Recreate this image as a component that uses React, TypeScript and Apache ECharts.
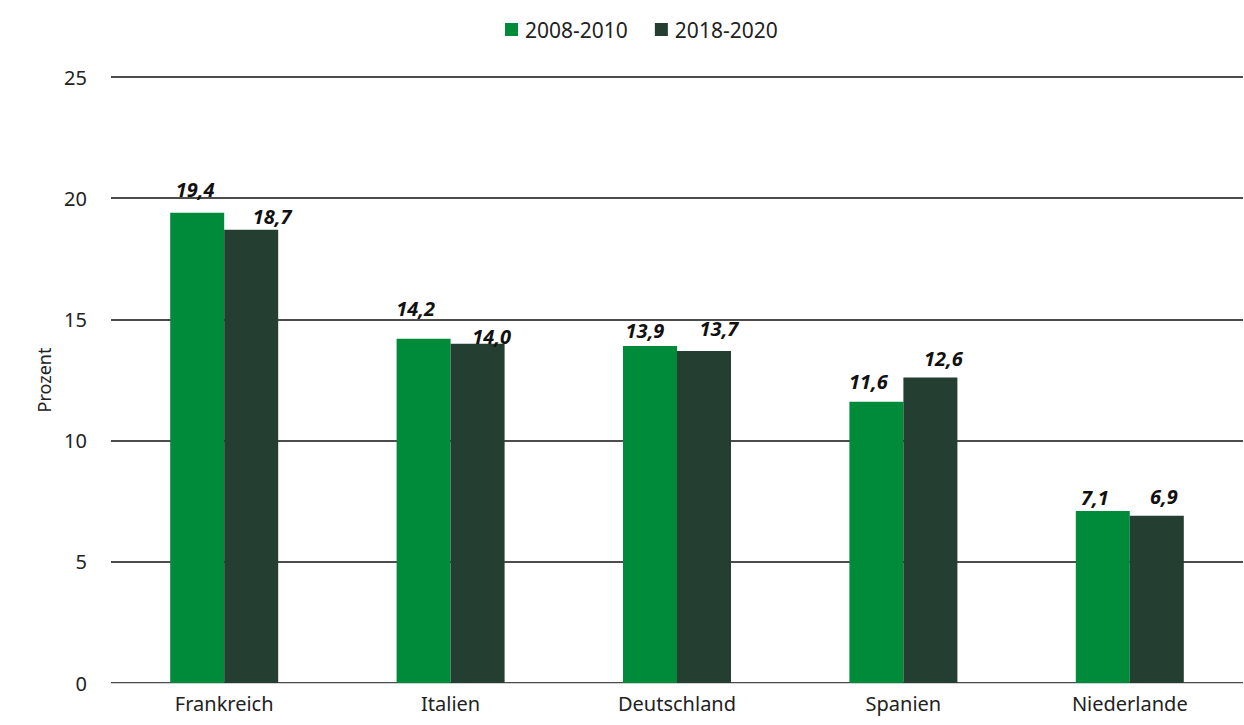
import React, { useEffect, useRef } from "react";
import * as echarts from "echarts";

const categories = ["Frankreich", "Italien", "Deutschland", "Spanien", "Niederlande"];
const series2008 = [19.4, 14.2, 13.9, 11.6, 7.1];
const series2018 = [18.7, 14.0, 13.7, 12.6, 6.9];
const seriesNames = ["2008-2010", "2018-2020"];
// manual label nudges (px) as in the original chart
const labelNudge2008 = [[-2, -13], [-8, -20], [-5, -6], [-8, -10], [-8, -3]];
const labelNudge2018 = [[21, -3], [14, 3], [15, -12], [13, -9], [7, -9]];
const FONT = "'Noto Sans', 'Open Sans', sans-serif";

export default function App() {
  const ref = useRef<HTMLDivElement>(null);
  useEffect(() => {
    if (!ref.current) return;
    const chart = echarts.init(ref.current, null, { renderer: "svg" });
    const label = {
      show: true,
      position: "top",
      distance: 0,
      fontFamily: FONT,
      fontSize: 20,
      fontWeight: "bold",
      fontStyle: "italic",
      color: "#111",
      formatter: (p: any) => p.value.toFixed(1).replace(".", ","),
    };
    const mk = (vals: number[], nudges: number[][]) =>
      vals.map((v, i) => ({ value: v, label: { offset: nudges[i] } }));
    chart.setOption({
      animation: false,
      textStyle: { fontFamily: FONT },
      legend: {
        top: 14,
        left: 500,
        itemWidth: 13,
        itemHeight: 13,
        itemGap: 27,
        icon: "rect",
        textStyle: { fontFamily: FONT, fontSize: 21, color: "#222", padding: [0, 0, 0, 2] },
        data: seriesNames,
      },
      grid: { left: 111, right: 1, top: 77, bottom: 42, containLabel: false },
      xAxis: {
        type: "category",
        data: categories,
        axisTick: { show: false },
        axisLine: { lineStyle: { color: "#d0d0d0", width: 1 } },
        axisLabel: { fontFamily: FONT, fontSize: 20, color: "#222", margin: 10 },
      },
      yAxis: {
        type: "value",
        min: 0,
        max: 25,
        interval: 5,
        name: "Prozent",
        nameLocation: "middle",
        nameGap: 58,
        nameRotate: 90,
        nameTextStyle: { fontFamily: FONT, fontSize: 18, color: "#222" },
        axisLabel: { fontFamily: FONT, fontSize: 20, color: "#222", margin: 24 },
        splitLine: { lineStyle: { color: "#111", width: 1.5 } },
        axisLine: { show: false },
        axisTick: { show: false },
      },
      series: [
        {
          name: seriesNames[0],
          type: "bar",
          data: mk(series2008, labelNudge2008),
          barWidth: 54,
          barGap: "0%",
          itemStyle: { color: "#008B3A" },
          label,
        },
        {
          name: seriesNames[1],
          type: "bar",
          data: mk(series2018, labelNudge2018),
          barWidth: 54,
          itemStyle: { color: "#243F31" },
          label,
        },
      ],
    });
    return () => chart.dispose();
  }, []);
  return (
    <div
      ref={ref}
      style={{ position: "fixed", left: 0, top: 0, width: 1244, height: 725, background: "#fff" }}
    />
  );
}
